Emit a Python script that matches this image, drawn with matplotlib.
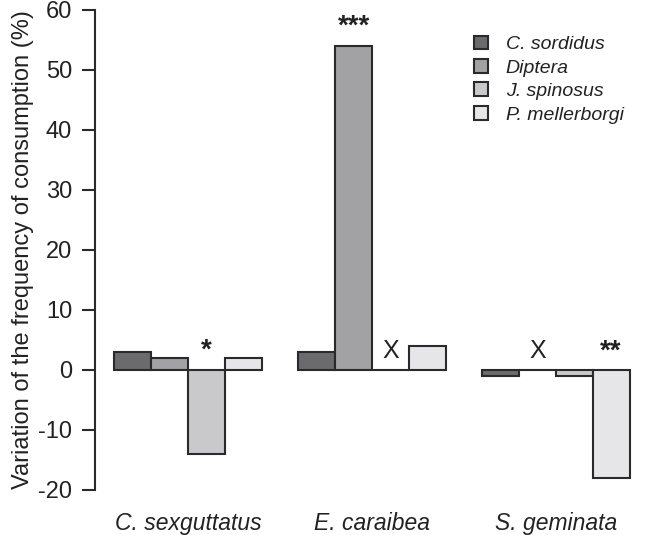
import matplotlib
matplotlib.use("Agg")
import matplotlib.pyplot as plt
import numpy as np

plt.rcParams['font.family'] = ['Liberation Sans', 'DejaVu Sans']
plt.rcParams['axes.unicode_minus'] = False

groups = ["C. sexguttatus", "E. caraibea", "S. geminata"]
series = ["C. sordidus", "Diptera", "J. spinosus", "P. mellerborgi"]
values = {
    "C. sordidus":    [3, 3, -1],
    "Diptera":        [2, 54, 0],
    "J. spinosus":    [-14, 0, -1],
    "P. mellerborgi": [2, 4, -18],
}
colors = ["#6b6b6d", "#a2a2a4", "#c9c9cb", "#e6e6e8"]
# annotations: (group index, series index, text, y baseline)
annotations = [(0, 2, "*", 2.0), (1, 1, "***", 56.1), (1, 2, "X", 2.0),
               (2, 1, "X", 2.0), (2, 3, "**", 1.9)]
yticks = [-20, -10, 0, 10, 20, 30, 40, 50, 60]

fig = plt.figure(figsize=(6.52, 5.35), dpi=100)
ax = fig.add_axes([95/652, 1-490/535, (645-95)/652, 480/535])

x = np.arange(len(groups))
w = 0.2
for i, s in enumerate(series):
    pos = x + (i - 1.5) * w
    ax.bar(pos, values[s], width=w, color=colors[i], edgecolor="#2a2a2a",
           linewidth=1.5, label=s, zorder=2)

for g, si, txt, yv in annotations:
    px = x[g] + (si - 1.5) * w
    if txt == "X":
        ax.text(px, yv, txt, ha="center", va="baseline", fontsize=18, color="#222222")
    else:
        ax.text(px, yv, txt, ha="center", va="baseline", fontsize=20,
                fontweight="bold", color="#222222")

ax.set_xlim(-0.505, 2.484)
ax.set_ylim(-20, 60)
ax.set_yticks(yticks)
ax.tick_params(axis="y", direction="out", length=9.5, width=1.5, labelsize=17,
               color="#2a2a2a", labelcolor="#222222", pad=7)
ax.set_xticks(x)
ax.set_xticklabels(groups, fontstyle="italic", fontsize=16.5, color="#222222")
ax.tick_params(axis="x", length=0, pad=16)
for sp in ["top", "right", "bottom"]:
    ax.spines[sp].set_visible(False)
ax.spines["left"].set_linewidth(1.5)
ax.spines["left"].set_color("#2a2a2a")
ax.set_ylabel("Variation of the frequency of consumption (%)", fontsize=17,
              color="#222222", labelpad=3)

leg = ax.legend(loc="upper left", bbox_to_anchor=(0.664, 0.975), frameon=False,
                prop={"style": "italic", "size": 14}, handlelength=0.75,
                handleheight=0.7, handletextpad=0.9, labelspacing=0.3,
                borderaxespad=0.3)
for t in leg.get_texts():
    t.set_color("#222222")

fig.savefig("out.png", dpi=100)
